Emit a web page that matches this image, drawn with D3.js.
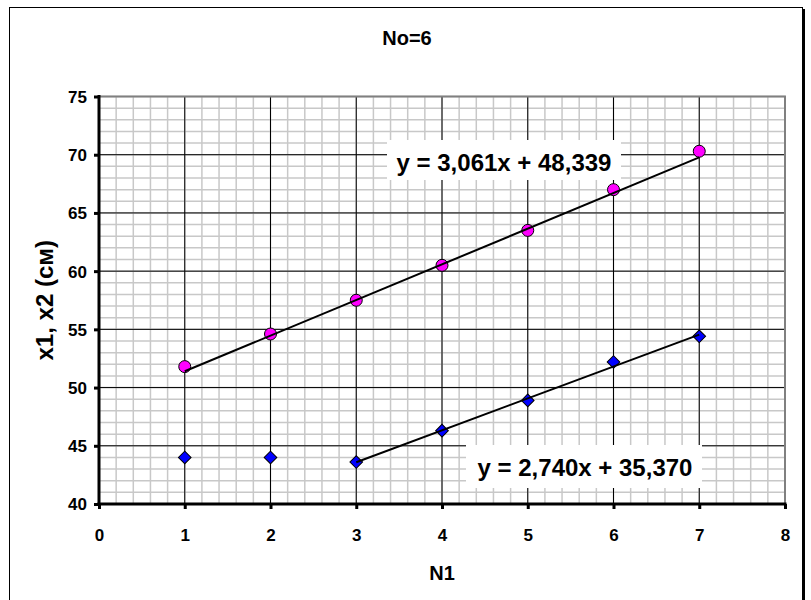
<!DOCTYPE html>
<html><head><meta charset="utf-8">
<script src="https://cdn.jsdelivr.net/npm/d3@7"></script>
<style>
html,body{margin:0;padding:0;background:#fff;}
text{font-family:"Liberation Sans",Arial,sans-serif;font-weight:bold;fill:#000;}
</style></head>
<body>
<script>
const titleText = "No=6";
const xAxisTitle = "N1";
const yAxisTitle = "x1, x2 (см)";
const xTicks = [0,1,2,3,4,5,6,7,8];
const yTicks = [40,45,50,55,60,65,70,75];
const N1 = [1,2,3,4,5,6,7];
const seriesX1 = [51.8,54.6,57.5,60.5,63.5,67.0,70.3];
const seriesX2 = [44.0,44.0,43.6,46.3,48.9,52.2,54.4];
const trend1 = {slope:3.061, intercept:48.339, from:1, to:7, label:"y = 3,061x + 48,339"};
const trend2 = {slope:2.740, intercept:35.370, from:3, to:7, label:"y = 2,740x + 35,370"};

(function(){
const W = 811, H = 600;
const svg = d3.select("body").append("svg").attr("width",W).attr("height",H);

// outer frame (bottom edge lies outside the picture)
svg.append("rect").attr("x",9.5).attr("y",7.5).attr("width",793).attr("height",600)
  .attr("fill","#fff").attr("stroke","#000").attr("stroke-width",1);
svg.append("line").attr("x1",804).attr("x2",804).attr("y1",9).attr("y2",600)
  .attr("stroke","#000").attr("stroke-width",2);

const pL=99, pR=785, pT=96.5, pB=504;
const x = d3.scaleLinear().domain([0,8]).range([pL,pR]);
const y = d3.scaleLinear().domain([40,75]).range([pB,pT]);

const g = svg.append("g");
const minorX = d3.range(0,8.0001,0.2);
const minorY = d3.range(40,75.0001,1);
g.selectAll(".mx").data(minorX).enter().append("line")
  .attr("x1",d=>x(d)).attr("x2",d=>x(d)).attr("y1",pT).attr("y2",pB)
  .attr("stroke","#c8c8c8").attr("stroke-width",1.5);
g.selectAll(".my").data(minorY).enter().append("line")
  .attr("x1",pL).attr("x2",pR).attr("y1",d=>y(d)).attr("y2",d=>y(d))
  .attr("stroke","#c8c8c8").attr("stroke-width",1.5);
g.selectAll(".Mx").data(xTicks).enter().append("line")
  .attr("x1",d=>x(d)).attr("x2",d=>x(d)).attr("y1",pT).attr("y2",pB)
  .attr("stroke","#000").attr("stroke-width",1);
g.selectAll(".My").data(yTicks).enter().append("line")
  .attr("x1",pL).attr("x2",pR).attr("y1",d=>y(d)).attr("y2",d=>y(d))
  .attr("stroke","#000").attr("stroke-width",1);

svg.append("path").attr("d",`M${pL},${pT}H${pR}V${pB}`)
  .attr("fill","none").attr("stroke","#808080").attr("stroke-width",2);

function eqLabel(t, cx, baseline, boxX, boxY, boxW, boxH){
  svg.append("rect").attr("x",boxX).attr("y",boxY).attr("width",boxW).attr("height",boxH).attr("fill","#fff");
  svg.append("text").attr("x",cx).attr("y",baseline).attr("text-anchor","middle")
    .attr("font-size",24).text(t);
}

svg.selectAll(".c1").data(N1).enter().append("circle")
  .attr("cx",d=>x(d)).attr("cy",(d,i)=>y(seriesX1[i])).attr("r",6)
  .attr("fill","#ff00ff").attr("stroke","#000").attr("stroke-width",1);
const dia = d3.symbol().type(d3.symbolSquare).size(80);
svg.selectAll(".d2").data(N1).enter().append("path")
  .attr("d",dia)
  .attr("transform",(d,i)=>`translate(${x(d)},${y(seriesX2[i])}) rotate(45)`)
  .attr("fill","#0000ff").attr("stroke","#000").attr("stroke-width",1);

[trend1,trend2].forEach(t=>{
  svg.append("line").attr("x1",x(t.from)).attr("y1",y(t.slope*t.from+t.intercept))
    .attr("x2",x(t.to)).attr("y2",y(t.slope*t.to+t.intercept))
    .attr("stroke","#000").attr("stroke-width",2);
});

eqLabel(trend1.label, 504, 171, 387, 140, 234, 40);
eqLabel(trend2.label, 585, 476, 466, 445, 236, 43);

const xAxis = d3.axisBottom(x).tickValues(xTicks).tickSize(5).tickFormat(d3.format("d"));
const gx = svg.append("g").attr("transform",`translate(0,${pB})`).call(xAxis);
gx.attr("font-family",null).attr("font-size",null);
gx.select(".domain").attr("stroke","#000").attr("stroke-width",3).attr("d",`M${pL-1.5},0H${pR+1.5}`);
gx.selectAll(".tick line").attr("stroke","#000").attr("stroke-width",3);
gx.selectAll(".tick text").attr("font-size",17).attr("dy",0).attr("y",37).attr("fill","#000");

const yAxis = d3.axisLeft(y).tickValues(yTicks).tickSize(5).tickFormat(d3.format("d"));
const gy = svg.append("g").attr("transform",`translate(${pL},0)`).call(yAxis);
gy.attr("font-family",null).attr("font-size",null);
gy.select(".domain").attr("stroke","#000").attr("stroke-width",3).attr("d",`M0,${pT-1.5}V${pB+1.5}`);
gy.selectAll(".tick line").attr("stroke","#000").attr("stroke-width",3);
gy.selectAll(".tick text").attr("font-size",17).attr("x",-12).attr("dy","0.35em").attr("fill","#000");

svg.append("text").attr("x",407).attr("y",45).attr("text-anchor","middle").attr("font-size",20).text(titleText);
svg.append("text").attr("x",(pL+pR)/2).attr("y",580).attr("text-anchor","middle").attr("font-size",20).text(xAxisTitle);
svg.append("text").attr("transform",`translate(53,${(pT+pB)/2}) rotate(-90)`)
  .attr("text-anchor","middle").attr("font-size",24).text(yAxisTitle);
})();
</script>
</body></html>
